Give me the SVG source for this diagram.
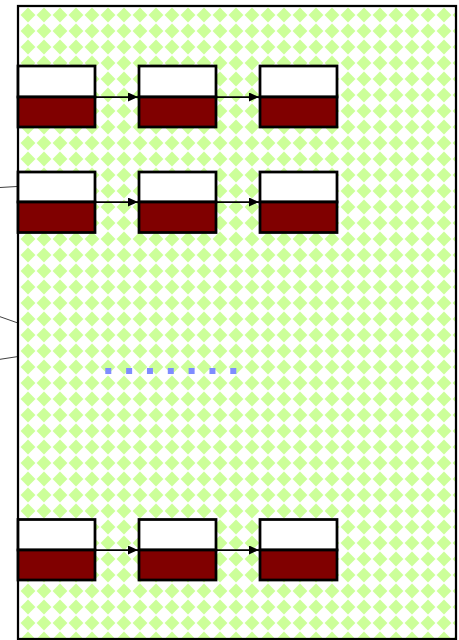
<svg xmlns="http://www.w3.org/2000/svg" width="459" height="640" viewBox="0 0 459 640">
<style>
.top{fill:#ffffff;stroke:#000000;stroke-width:2.75}
.bot{fill:#800000;stroke:#000000;stroke-width:2.75}
.arr{stroke:#000000;stroke-width:1.75;fill:none;marker-end:url(#ah)}
.call{stroke:#404040;stroke-width:1;fill:none}
</style>
<defs>
<pattern id="dia" patternUnits="userSpaceOnUse" x="20" y="7" width="16" height="16">
<rect width="16" height="16" fill="#ffffff"/>
<polygon points="8,0.6 15.4,8 8,15.4 0.6,8" fill="#ccff99"/>
</pattern>
<marker id="ah" viewBox="0 0 10 9" refX="10" refY="4.5" markerWidth="10" markerHeight="9" markerUnits="userSpaceOnUse" orient="auto">
<path d="M0,0 L10,4.5 L0,9 Z" fill="#000000"/>
</marker>
</defs>
<g id="background">
<rect x="18" y="6" width="438" height="633" fill="url(#dia)" stroke="#000000" stroke-width="2.25"/>
</g>
<g id="callouts">
<line class="call" x1="0" y1="187.5" x2="17" y2="186.5"/>
<line class="call" x1="0" y1="316.7" x2="17" y2="322.7"/>
<line class="call" x1="0" y1="359.3" x2="17" y2="356.7"/>
</g>
<g id="n1a"><rect class="top" x="18" y="66" width="77" height="31"/><rect class="bot" x="18" y="97" width="77" height="30"/></g>
<g id="n1b"><rect class="top" x="139" y="66" width="77" height="31"/><rect class="bot" x="139" y="97" width="77" height="30"/></g>
<g id="n1c"><rect class="top" x="260" y="66" width="77" height="31"/><rect class="bot" x="260" y="97" width="77" height="30"/></g>
<g id="n2a"><rect class="top" x="18" y="172" width="77" height="30"/><rect class="bot" x="18" y="202" width="77" height="30.5"/></g>
<g id="n2b"><rect class="top" x="139" y="172" width="77" height="30"/><rect class="bot" x="139" y="202" width="77" height="30.5"/></g>
<g id="n2c"><rect class="top" x="260" y="172" width="77" height="30"/><rect class="bot" x="260" y="202" width="77" height="30.5"/></g>
<g id="n3a"><rect class="top" x="18" y="519.5" width="77" height="30.5"/><rect class="bot" x="18" y="550" width="77" height="30"/></g>
<g id="n3b"><rect class="top" x="139" y="519.5" width="77" height="30.5"/><rect class="bot" x="139" y="550" width="77" height="30"/></g>
<g id="n3c"><rect class="top" x="260" y="519.5" width="77" height="30.5"/><rect class="bot" x="260" y="550" width="77" height="30"/></g>
<g id="connectors">
<line class="arr" x1="96" y1="97" x2="138" y2="97"/>
<line class="arr" x1="217" y1="97" x2="259" y2="97"/>
<line class="arr" x1="96" y1="202" x2="138" y2="202"/>
<line class="arr" x1="217" y1="202" x2="259" y2="202"/>
<line class="arr" x1="96" y1="550" x2="138" y2="550"/>
<line class="arr" x1="217" y1="550" x2="259" y2="550"/>
</g>
<g id="ellipsis">
<line x1="105.3" y1="371" x2="237" y2="371" stroke="#7f8cff" stroke-width="6" stroke-dasharray="6 14.83"/>
</g>
</svg>
